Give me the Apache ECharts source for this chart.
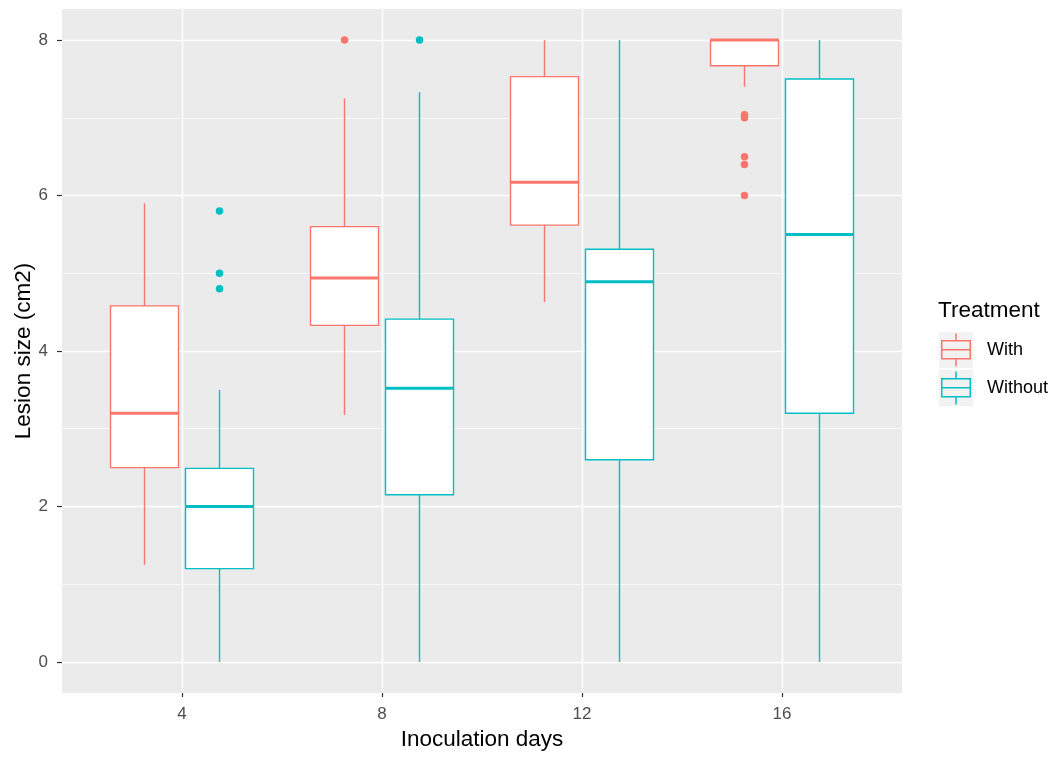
<!DOCTYPE html>
<html>
<head>
<meta charset="utf-8">
<script src="https://cdn.jsdelivr.net/npm/echarts@6/dist/echarts.min.js"></script>
<style>
html, body { margin: 0; background: #fff; }
#main { width: 1060px; height: 758px; }
</style>
</head>
<body>
<div id="main"></div>
<script>
var days = ['4', '8', '12', '16'];
var treatments = ['With', 'Without'];
var colors = ['#F8766D', '#00BFC4'];

// [min, Q1, median, Q3, max] for each inoculation day
var withStats = [
    [1.25, 2.5, 3.2, 4.58, 5.9],
    [3.18, 4.33, 4.94, 5.6, 7.25],
    [4.63, 5.62, 6.17, 7.53, 8],
    [7.4, 7.67, 8, 8, 8]
];
var withoutStats = [
    [0, 1.2, 2.0, 2.49, 3.5],
    [0, 2.15, 3.52, 4.41, 7.33],
    [0, 2.6, 4.89, 5.31, 8],
    [0, 3.2, 5.5, 7.5, 8]
];

// outliers: [day index, value]
var withOutliers = [[1, 8], [3, 7.04], [3, 7.0], [3, 6.5], [3, 6.4], [3, 6.0]];
var withoutOutliers = [[0, 5.8], [0, 5.0], [0, 4.8], [1, 8]];

var yTicks = [0, 2, 4, 6, 8];
var yMinor = [1, 3, 5, 7];
var xTicks = [1, 2, 3, 4];

var dodge = 0.1875;
var boxWidth = 0.34;

var myChart = echarts.init(document.getElementById('main'));

function renderBox(params, api) {
    var x = api.value(0);
    var lo = api.coord([x, api.value(1)]);
    var q1 = api.coord([x, api.value(2)]);
    var med = api.coord([x, api.value(3)]);
    var q3 = api.coord([x, api.value(4)]);
    var hi = api.coord([x, api.value(5)]);
    var w = api.size([boxWidth, 0])[0];
    var color = api.visual('color');
    return {
        type: 'group',
        children: [
            { type: 'line', shape: { x1: lo[0], y1: lo[1], x2: q1[0], y2: q1[1] }, style: { stroke: color, lineWidth: 1.4 } },
            { type: 'line', shape: { x1: q3[0], y1: q3[1], x2: hi[0], y2: hi[1] }, style: { stroke: color, lineWidth: 1.4 } },
            { type: 'rect', shape: { x: q3[0] - w / 2, y: q3[1], width: w, height: q1[1] - q3[1] }, style: { fill: '#fff', stroke: color, lineWidth: 1.4 } },
            { type: 'line', shape: { x1: med[0] - w / 2, y1: med[1], x2: med[0] + w / 2, y2: med[1] }, style: { stroke: color, lineWidth: 3 } }
        ]
    };
}

function boxData(stats, shift) {
    return stats.map(function (s, i) { return [i + 1 + shift].concat(s); });
}
function outlierData(list, shift) {
    return list.map(function (o) { return [o[0] + 1 + shift, o[1]]; });
}

var keyIcon = 'path://M0 6.5H30V26H0Z M1.5 8V24.5H28.5V8Z M1.5 15.5H28.5V17H1.5Z M14.25 0H15.75V6.5H14.25Z M14.25 26H15.75V33H14.25Z';

option = {
    backgroundColor: '#fff',
    animation: false,
    title: {
        text: 'Treatment',
        left: 938,
        top: 299,
        padding: 0,
        textStyle: { fontFamily: 'Liberation Sans', fontSize: 22.5, fontWeight: 'normal', color: '#000' }
    },
    legend: [
        {
            left: 939,
            top: 332,
            padding: 0,
            orient: 'vertical',
            itemWidth: 34,
            itemHeight: 36,
            itemGap: 2,
            selectedMode: false,
            icon: 'rect',
            formatter: function () { return ''; },
            data: treatments.map(function (t) {
                return { name: t, itemStyle: { color: '#F2F2F2', borderWidth: 0 } };
            })
        },
        {
            left: 941,
            top: 333.5,
            padding: 0,
            orient: 'vertical',
            itemWidth: 30,
            itemHeight: 33,
            itemGap: 5,
            selectedMode: false,
            icon: keyIcon,
            textStyle: { fontFamily: 'Liberation Sans', fontSize: 18, color: '#000', padding: [4, 0, 0, 11] },
            data: treatments.map(function (t, i) {
                return { name: t, itemStyle: { color: colors[i], borderWidth: 0 } };
            })
        }
    ],
    grid: {
        left: 62,
        right: 158,
        top: 9,
        bottom: 65,
        outerBoundsMode: 'none',
        containLabel: false,
        show: true,
        backgroundColor: '#EBEBEB',
        borderWidth: 0
    },
    xAxis: {
        type: 'value',
        min: 0.4,
        max: 4.6,
        name: 'Inoculation days',
        nameLocation: 'middle',
        nameGap: 35,
        nameMoveOverlap: false,
        nameTextStyle: { fontFamily: 'Liberation Sans', fontSize: 22.5, color: '#000' },
        axisLine: { show: false, onZero: false },
        axisTick: { customValues: xTicks, length: 4, lineStyle: { color: '#333', width: 1.2 } },
        axisLabel: {
            customValues: xTicks,
            margin: 13,
            fontFamily: 'Liberation Sans',
            fontSize: 17,
            color: '#4D4D4D',
            formatter: function (v) { return days[Math.round(v) - 1]; }
        },
        splitLine: { show: true, lineStyle: { color: '#fff', width: 1.4 } }
    },
    yAxis: [
        {
            type: 'value',
            min: -0.4,
            max: 8.4,
            name: 'Lesion size (cm2)',
            nameLocation: 'middle',
            nameRotate: 90,
            nameGap: 27,
            nameMoveOverlap: false,
            nameTextStyle: { fontFamily: 'Liberation Sans', fontSize: 22.5, color: '#000' },
            axisLine: { show: false, onZero: false },
            axisTick: { customValues: yTicks, length: 5, lineStyle: { color: '#333', width: 1.2 } },
            axisLabel: {
                customValues: yTicks,
                margin: 14,
                fontFamily: 'Liberation Sans',
                fontSize: 17,
                color: '#4D4D4D'
            },
            splitLine: { show: true, lineStyle: { color: '#fff', width: 1.4 } }
        },
        {
            type: 'value',
            min: -0.4,
            max: 8.4,
            axisLine: { show: false, onZero: false },
            axisTick: { show: false, customValues: yMinor },
            axisLabel: { show: false },
            splitLine: { show: true, lineStyle: { color: '#fff', width: 0.7 } }
        }
    ],
    series: [
        {
            name: 'With',
            type: 'custom',
            renderItem: renderBox,
            itemStyle: { color: colors[0] },
            encode: { x: 0, y: [1, 2, 3, 4, 5] },
            data: boxData(withStats, -dodge),
            z: 3
        },
        {
            name: 'Without',
            type: 'custom',
            renderItem: renderBox,
            itemStyle: { color: colors[1] },
            encode: { x: 0, y: [1, 2, 3, 4, 5] },
            data: boxData(withoutStats, dodge),
            z: 3
        },
        {
            name: 'With',
            type: 'scatter',
            symbolSize: 7.5,
            itemStyle: { color: colors[0], opacity: 1 },
            data: outlierData(withOutliers, -dodge),
            z: 4
        },
        {
            name: 'Without',
            type: 'scatter',
            symbolSize: 7.5,
            itemStyle: { color: colors[1], opacity: 1 },
            data: outlierData(withoutOutliers, dodge),
            z: 4
        }
    ]
};

myChart.setOption(option);
</script>
</body>
</html>
